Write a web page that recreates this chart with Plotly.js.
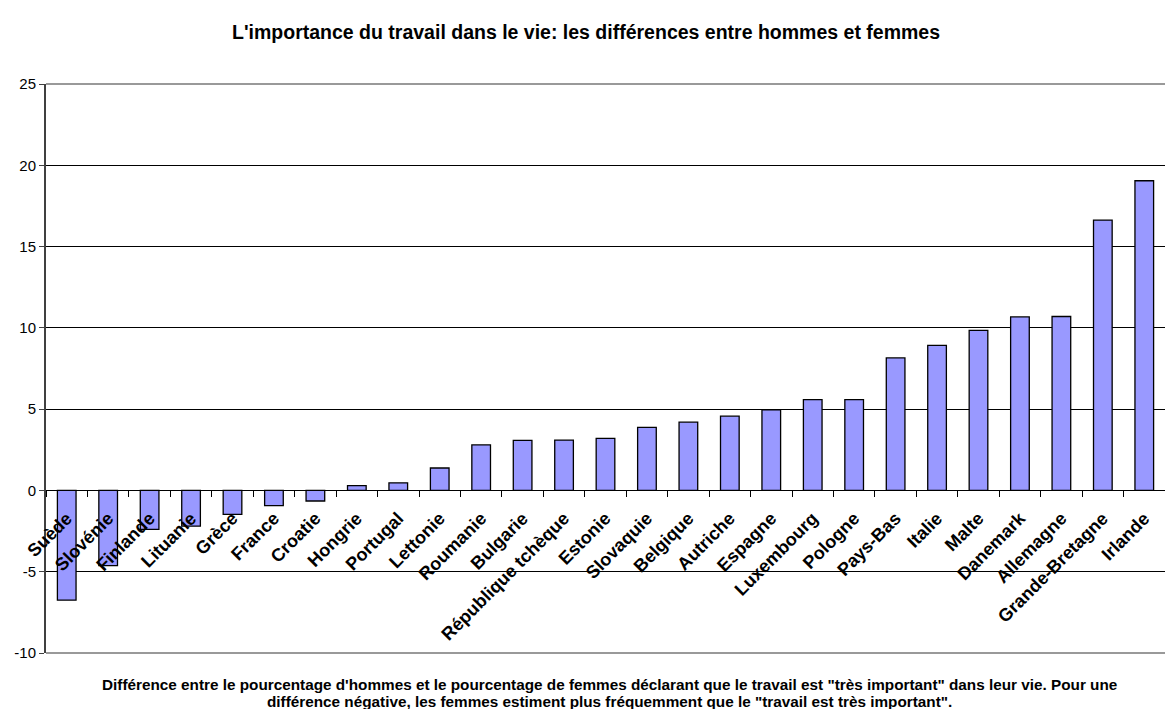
<!DOCTYPE html>
<html><head><meta charset="utf-8">
<script src="https://cdn.plot.ly/plotly-3.0.1.min.js"></script>
<style>html,body{margin:0;padding:0;background:#fff}#chart{width:1165px;height:709px}</style>
</head><body><div id="chart"></div>
<script>
const countries = ["Suède","Slovénie","Finlande","Lituanie","Grèce","France","Croatie","Hongrie","Portugal","Lettonie","Roumanie","Bulgarie","République tchèque","Estonie","Slovaquie","Belgique","Autriche","Espagne","Luxembourg","Pologne","Pays-Bas","Italie","Malte","Danemark","Allemagne","Grande-Bretagne","Irlande"];
const differences = [-6.75,-4.63,-2.4,-2.2,-1.47,-0.94,-0.65,0.3,0.47,1.38,2.8,3.08,3.1,3.2,3.88,4.2,4.57,4.95,5.58,5.58,8.15,8.92,9.85,10.67,10.7,16.63,19.05];
const yTicks = [-10,-5,0,5,10,15,20,25];
const captionLines = [
  'Différence entre le pourcentage d\'hommes et le pourcentage de femmes déclarant que le travail est "très important" dans leur vie. Pour une',
  'différence négative, les femmes estiment plus fréquemment que le "travail est très important".'
];

const trace = {
  type: 'bar', x: countries, y: differences,
  marker: {color: '#9999FF', line: {color: '#000000', width: 1.3}},
  hoverinfo: 'x+y'
};
const yMin = -10, yMax = 25;
const FONT = 'Liberation Sans, Arial, sans-serif';
const layout = {
  width: 1165, height: 709,
  margin: {l: 46, r: 0, t: 84, b: 56},
  paper_bgcolor: '#fff', plot_bgcolor: '#fff',
  font: {family: FONT, color: '#000'},
  title: {text: "L'importance du travail dans le vie: les différences entre hommes et femmes",
          font: {size: 19.5, family: FONT, weight: 'bold'}, x: 0.4826, xanchor: 'center', y: 0.955, yanchor: 'middle', xref: 'paper'},
  showlegend: false,
  bargap: 0.55,
  xaxis: {
    type: 'category', anchor: 'free', position: (0 - yMin) / (yMax - yMin),
    tickson: 'boundaries', ticks: 'outside', ticklen: 6, tickcolor: '#000', tickwidth: 1,
    showline: false, showgrid: false, zeroline: false,
    tickangle: -45, tickfont: {size: 18, weight: 'bold', family: FONT},
    ticklabelstandoff: 13,
    automargin: false
  },
  yaxis: {
    range: [yMin, yMax], tickvals: yTicks, ticktext: yTicks.map(String),
    showline: true, linecolor: '#404040', linewidth: 2,
    ticks: 'outside', ticklen: 5, tickcolor: '#404040',
    showgrid: true, gridcolor: '#000', gridwidth: 1,
    zeroline: true, zerolinecolor: '#000', zerolinewidth: 1,
    tickfont: {size: 15}, automargin: false
  },
  shapes: [
    {type: 'line', xref: 'paper', yref: 'paper', x0: 0, x1: 1, y0: 1, y1: 1, line: {color: '#999', width: 2}},
    {type: 'line', xref: 'paper', yref: 'paper', x0: 0, x1: 1, y0: 0, y1: 0, line: {color: '#999', width: 2}}
  ],
  annotations: captionLines.map((t, i) => ({
    xref: 'paper', yref: 'paper', x: 0.504, y: i === 0 ? -0.0545 : -0.0845, xanchor: 'center', yanchor: 'middle',
    showarrow: false, align: 'center', text: t,
    font: {size: 15.3, weight: 'bold', family: FONT}
  }))
};
Plotly.newPlot('chart', [trace], layout, {displayModeBar: false, staticPlot: true});
</script></body></html>
